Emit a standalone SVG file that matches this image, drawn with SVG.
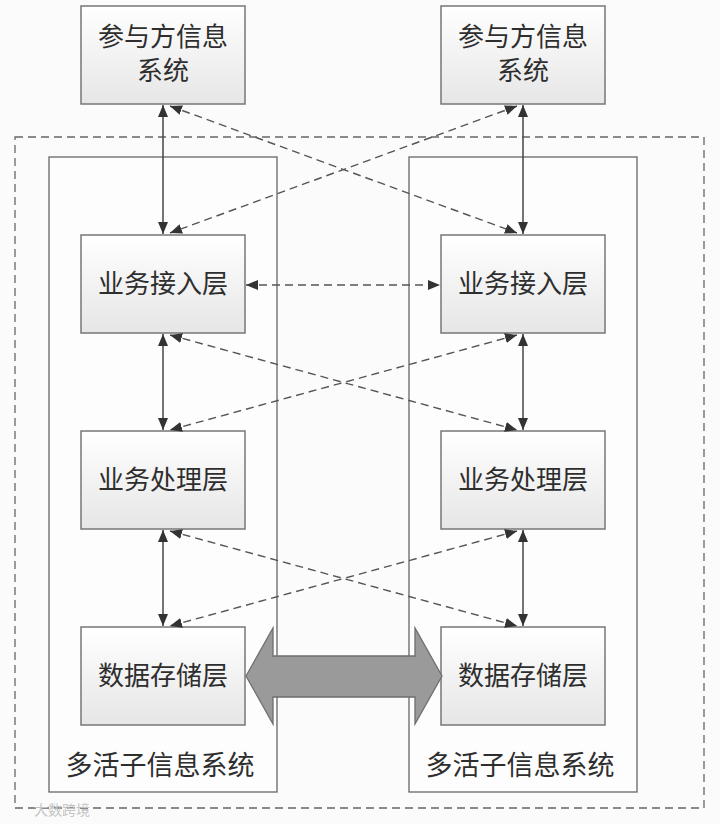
<svg xmlns="http://www.w3.org/2000/svg" width="720" height="824" viewBox="0 0 720 824">
<defs>
<linearGradient id="boxg" x1="0" y1="0" x2="0" y2="1">
<stop offset="0" stop-color="#ffffff"/>
<stop offset="1" stop-color="#e6e6e6"/>
</linearGradient>
<marker id="ah" viewBox="0 0 12 10" refX="12" refY="5" markerWidth="12" markerHeight="10" markerUnits="userSpaceOnUse" orient="auto-start-reverse">
<path d="M0,0 L12,5 L0,10 Z" fill="#333"/>
</marker>
</defs>
<style>
.box{fill:url(#boxg);stroke:#777;stroke-width:1.5}
.cont{fill:#fdfdfd;stroke:#666;stroke-width:1.3}
.outer{fill:none;stroke:#666;stroke-width:1.3;stroke-dasharray:8,5}
.t{font-family:"Noto Sans CJK SC","Noto Sans",sans-serif;font-size:26px;fill:#2e2e2e;text-anchor:middle}
.t2{font-size:27px}
.solid{stroke:#444;stroke-width:1.5;fill:none;marker-start:url(#ah);marker-end:url(#ah)}
.dash{stroke:#555;stroke-width:1.4;fill:none;stroke-dasharray:8,5;marker-start:url(#ah);marker-end:url(#ah)}
</style>
<rect x="0" y="0" width="720" height="824" fill="#fbfbfb"/>
<rect class="outer" x="15" y="137" width="689" height="671"/>
<g id="sys-left">
<rect class="cont" x="49" y="157" width="228" height="635"/>
<text class="t t2" x="160" y="775">多活子信息系统</text>
</g>
<g id="sys-right">
<rect class="cont" x="409" y="157" width="228" height="635"/>
<text class="t t2" x="520" y="775">多活子信息系统</text>
</g>
<g id="party-left">
<rect class="box" x="81" y="6" width="164" height="98"/>
<text class="t" x="163" y="46">参与方信息</text>
<text class="t" x="163" y="80">系统</text>
</g>
<g id="party-right">
<rect class="box" x="441" y="6" width="164" height="98"/>
<text class="t" x="523" y="46">参与方信息</text>
<text class="t" x="523" y="80">系统</text>
</g>
<g id="access-left">
<rect class="box" x="81" y="235" width="164" height="98"/>
<text class="t" x="163" y="293">业务接入层</text>
</g>
<g id="access-right">
<rect class="box" x="441" y="235" width="164" height="98"/>
<text class="t" x="523" y="293">业务接入层</text>
</g>
<g id="proc-left">
<rect class="box" x="81" y="431" width="164" height="98"/>
<text class="t" x="163" y="489">业务处理层</text>
</g>
<g id="proc-right">
<rect class="box" x="441" y="431" width="164" height="98"/>
<text class="t" x="523" y="489">业务处理层</text>
</g>
<g id="store-left">
<rect class="box" x="81" y="627" width="164" height="98"/>
<text class="t" x="163" y="685">数据存储层</text>
</g>
<g id="store-right">
<rect class="box" x="441" y="627" width="164" height="98"/>
<text class="t" x="523" y="685">数据存储层</text>
</g>
<g id="connectors">
<line class="solid" x1="163" y1="105" x2="163" y2="234"/>
<line class="solid" x1="523" y1="105" x2="523" y2="234"/>
<line class="solid" x1="163" y1="334" x2="163" y2="430"/>
<line class="solid" x1="523" y1="334" x2="523" y2="430"/>
<line class="solid" x1="163" y1="530" x2="163" y2="626"/>
<line class="solid" x1="523" y1="530" x2="523" y2="626"/>
<line class="dash" x1="170" y1="106" x2="517" y2="233"/>
<line class="dash" x1="517" y1="106" x2="170" y2="233"/>
<line class="dash" x1="246" y1="285" x2="440" y2="285"/>
<line class="dash" x1="170" y1="335" x2="517" y2="430"/>
<line class="dash" x1="517" y1="335" x2="170" y2="430"/>
<line class="dash" x1="170" y1="531" x2="517" y2="626"/>
<line class="dash" x1="517" y1="531" x2="170" y2="626"/>
<path d="M246,676 L273,628 L273,656 L415,656 L415,628 L442,676 L415,724 L415,697 L273,697 L273,724 Z" fill="#9a9a9a" stroke="#6e6e6e" stroke-width="1.3"/>
</g>
<text x="34" y="815" font-family="Noto Sans CJK SC,sans-serif" font-size="14" fill="#c4c4c4">大数跨境</text>
</svg>
